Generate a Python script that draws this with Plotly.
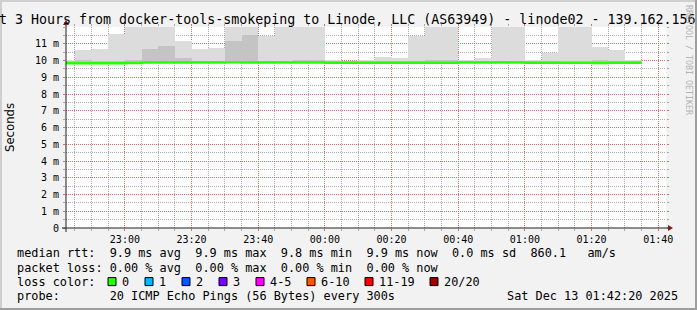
import plotly.graph_objects as go
import pandas as pd

# ---------------- data ----------------
bin_starts = pd.date_range("2025-12-12 22:40:00", periods=35, freq="5min")
bin_end = pd.Timestamp("2025-12-13 01:35:00")

median_ms = [9.84, 9.84, 9.84, 9.84, 9.85, 9.88, 9.88, 9.88, 9.88, 9.88,
             9.89, 9.88, 9.88, 9.88, 9.88, 9.88, 9.87, 9.87, 9.87, 9.87,
             9.87, 9.87, 9.87, 9.87, 9.88, 9.88, 9.88, 9.88, 9.87, 9.87,
             9.86, 9.86, 9.85, 9.87, 9.87]
smoke_min_ms = [9.80, 9.80, 9.80, 9.80, 9.81, 9.84, 9.84, 9.84, 9.84, 9.84,
                9.85, 9.84, 9.84, 9.84, 9.84, 9.84, 9.83, 9.83, 9.83, 9.83,
                9.83, 9.83, 9.83, 9.83, 9.84, 9.84, 9.84, 9.84, 9.83, 9.83,
                9.82, 9.82, 9.81, 9.83, 9.83]
smoke_inner_ms = [9.98, 10.02, 10.00, 10.00, 10.05, 10.66, 10.86, 10.14, 9.98, 10.00,
                  11.16, 11.55, 10.00, 10.00, 10.02, 10.02, 9.98, 10.00, 9.98, 10.00,
                  9.98, 9.98, 10.02, 10.02, 9.98, 9.98, 10.00, 10.00, 9.98, 9.98,
                  9.98, 9.98, 10.05, 9.98, 9.98]
smoke_max_ms = [10.06, 10.62, 10.66, 11.61, 12.00, 12.00, 12.00, 11.16, 10.66, 10.72,
                12.00, 12.00, 11.49, 12.00, 12.00, 12.00, 10.02, 10.00, 10.02, 10.20,
                10.12, 11.46, 12.00, 12.00, 10.04, 10.12, 12.00, 12.00, 10.02, 10.44,
                12.00, 12.00, 10.78, 10.62, 10.06]

y_tick_vals = [0, 1, 2, 3, 4, 5, 6, 7, 8, 9, 10, 11]
y_tick_text = ["0", "1 m", "2 m", "3 m", "4 m", "5 m", "6 m", "7 m", "8 m", "9 m", "10 m", "11 m"]
x_tick_vals = ["2025-12-12 23:00", "2025-12-12 23:20", "2025-12-12 23:40", "2025-12-13 00:00",
               "2025-12-13 00:20", "2025-12-13 00:40", "2025-12-13 01:00", "2025-12-13 01:20",
               "2025-12-13 01:40"]
x_tick_text = ["23:00", "23:20", "23:40", "00:00", "00:20", "00:40", "01:00", "01:20", "01:40"]

title_text = "Last 3 Hours from docker-tools-smokeping to Linode, LLC (AS63949) - linode02 - 139.162.156."
legend_rows = [
    "median rtt:  9.9 ms avg  9.9 ms max  9.8 ms min  9.9 ms now  0.0 ms sd  860.1   am/s",
    "packet loss: 0.00 % avg  0.00 % max  0.00 % min  0.00 % now",
    "loss color:",
    "probe:       20 ICMP Echo Pings (56 Bytes) every 300s",
]
loss_labels = ["0", "1", "2", "3", "4-5", "6-10", "11-19", "20/20"]
loss_colors = ["#26ff00", "#00b8ff", "#0059ff", "#7e00ff", "#ff00ff", "#ff5500", "#ff0000", "#a10000"]
timestamp_text = "Sat Dec 13 01:42:20 2025"

# ---------------- geometry ----------------
W_FIG, H_FIG = 697, 310
L, T, PW, PH = 66, 27, 600, 201
B = T + PH


def px(x):
    return (x - L) / PW


def py(y):
    return (B - y) / PH


def nb(s):
    return s.replace(" ", "\u00a0")


MONO = "DejaVu Sans Mono"
GRID = "rgba(143,143,143,0.75)"
MGRID = "rgba(222,79,79,0.6)"
ARROW = "#801f1f"
AXIS = "#1f1f1f"

fig = go.Figure()

starts = list(bin_starts)
light_h = [mx - mn for mx, mn in zip(smoke_max_ms, smoke_min_ms)]
dark_h = [ins - mn for ins, mn in zip(smoke_inner_ms, smoke_min_ms)]

fig.add_trace(go.Bar(x=starts, y=light_h, base=smoke_min_ms, width=300000, offset=0,
                     marker=dict(color="#dcdcdc", line=dict(width=0)), hoverinfo="skip"))
fig.add_trace(go.Bar(x=starts, y=dark_h, base=smoke_min_ms, width=300000, offset=0,
                     marker=dict(color="#c4c4c4", line=dict(width=0)), hoverinfo="skip"))
fig.add_trace(go.Scatter(x=starts + [bin_end], y=median_ms + [median_ms[-1]], mode="lines",
                         line=dict(color="#26ff00", width=2.4, shape="hv"), hoverinfo="skip"))

fig.update_layout(
    width=W_FIG, height=H_FIG,
    margin=dict(l=L, r=W_FIG - L - PW, t=T, b=H_FIG - B, pad=0),
    paper_bgcolor="#f2f2f2", plot_bgcolor="#ffffff",
    showlegend=False, barmode="overlay", bargap=0,
    font=dict(family=MONO, size=10, color="#000000"),
)

fig.update_xaxes(
    type="date", range=["2025-12-12 22:42:20", "2025-12-13 01:42:20"],
    tickmode="array", tickvals=x_tick_vals, ticktext=x_tick_text,
    tickfont=dict(family=MONO, size=10, color="#000"),
    showgrid=True, gridcolor=MGRID, griddash="1px,1px", gridwidth=1,
    ticks="outside", ticklen=2, tickcolor=MGRID, mirror="ticks",
    minor=dict(dtick=300000, tick0="2025-12-12 23:00", showgrid=True, gridcolor=GRID,
               griddash="1px,1px", ticks="outside", ticklen=2, tickcolor=GRID),
    showline=False, zeroline=False, fixedrange=True,
)
fig.update_yaxes(
    range=[0, 12], tickmode="array", tickvals=y_tick_vals, ticktext=y_tick_text,
    tickfont=dict(family=MONO, size=10, color="#000"),
    showgrid=True, gridcolor=MGRID, griddash="1px,1px", gridwidth=1,
    ticks="outside", ticklen=2, tickcolor=MGRID, mirror="ticks",
    minor=dict(dtick=0.5, tick0=0, showgrid=True, gridcolor=GRID, griddash="1px,1px",
               ticks="outside", ticklen=2, tickcolor=GRID),
    showline=False, zeroline=False, fixedrange=True, ticklabelstandoff=2,
)

shapes = []
# frame shading
shapes.append(dict(type="rect", xref="paper", yref="paper", x0=px(0), x1=px(697), y0=py(0), y1=py(2),
                   fillcolor="#cfcfcf", line=dict(width=0), layer="above"))
shapes.append(dict(type="rect", xref="paper", yref="paper", x0=px(0), x1=px(2), y0=py(0), y1=py(310),
                   fillcolor="#cfcfcf", line=dict(width=0), layer="above"))
shapes.append(dict(type="rect", xref="paper", yref="paper", x0=px(0), x1=px(697), y0=py(308), y1=py(310),
                   fillcolor="#9e9e9e", line=dict(width=0), layer="above"))
shapes.append(dict(type="rect", xref="paper", yref="paper", x0=px(695), x1=px(697), y0=py(0), y1=py(310),
                   fillcolor="#9e9e9e", line=dict(width=0), layer="above"))
# axes
shapes.append(dict(type="line", xref="paper", yref="paper", x0=px(L - 4), x1=px(L + PW + 4), y0=py(B), y1=py(B),
                   line=dict(color=AXIS, width=1), layer="above"))
shapes.append(dict(type="line", xref="paper", yref="paper", x0=px(L), x1=px(L), y0=py(B + 4), y1=py(T - 4),
                   line=dict(color=AXIS, width=1), layer="above"))
# arrows
ax0, ay0 = L + PW + 2, B
shapes.append(dict(type="path", xref="paper", yref="paper",
                   path=f"M {px(ax0)} {py(ay0 - 3)} L {px(ax0)} {py(ay0 + 3)} L {px(ax0 + 5)} {py(ay0)} Z",
                   fillcolor=ARROW, line=dict(width=0), layer="above"))
shapes.append(dict(type="path", xref="paper", yref="paper",
                   path=f"M {px(L - 3)} {py(T - 2)} L {px(L + 3)} {py(T - 2)} L {px(L)} {py(T - 7)} Z",
                   fillcolor=ARROW, line=dict(width=0), layer="above"))

annotations = []
annotations.append(dict(text=nb(title_text), xref="paper", yref="paper", x=px(-27), y=py(19.5),
                        xanchor="left", yanchor="middle", showarrow=False,
                        font=dict(family=MONO, size=13.3, color="#000")))
annotations.append(dict(text="Seconds", xref="paper", yref="paper", x=px(10), y=py(128),
                        xanchor="center", yanchor="middle", showarrow=False, textangle=-90,
                        font=dict(family="DejaVu Sans", size=11.7, color="#000")))
annotations.append(dict(text=nb("RRDTOOL / TOBI OETIKER"), xref="paper", yref="paper", x=px(689), y=py(60),
                        xanchor="center", yanchor="middle", showarrow=False, textangle=90,
                        font=dict(family=MONO, size=8.3, color="#b4b4b4")))

row_y = [253.3, 267.6, 281.6, 296.0]
for txt, yy in zip(legend_rows, row_y):
    annotations.append(dict(text=nb(txt), xref="paper", yref="paper", x=px(15), y=py(yy),
                            xanchor="left", yanchor="middle", showarrow=False,
                            font=dict(family=MONO, size=11.85, color="#000")))
annotations.append(dict(text=nb(timestamp_text), xref="paper", yref="paper", x=px(680), y=py(row_y[3]),
                        xanchor="right", yanchor="middle", showarrow=False,
                        font=dict(family=MONO, size=11.85, color="#000")))

bx = 108.0
for lab, col in zip(loss_labels, loss_colors):
    shapes.append(dict(type="rect", xref="paper", yref="paper", x0=px(bx), x1=px(bx + 8),
                       y0=py(row_y[2] - 4), y1=py(row_y[2] + 4),
                       fillcolor=col, line=dict(color="#000", width=1), layer="above"))
    annotations.append(dict(text=nb(lab), xref="paper", yref="paper", x=px(bx + 12), y=py(row_y[2]),
                            xanchor="left", yanchor="middle", showarrow=False,
                            font=dict(family=MONO, size=11.85, color="#000")))
    bx += 30 + 7 * len(lab)

fig.update_layout(shapes=shapes, annotations=annotations)
fig.write_html("out.html")
